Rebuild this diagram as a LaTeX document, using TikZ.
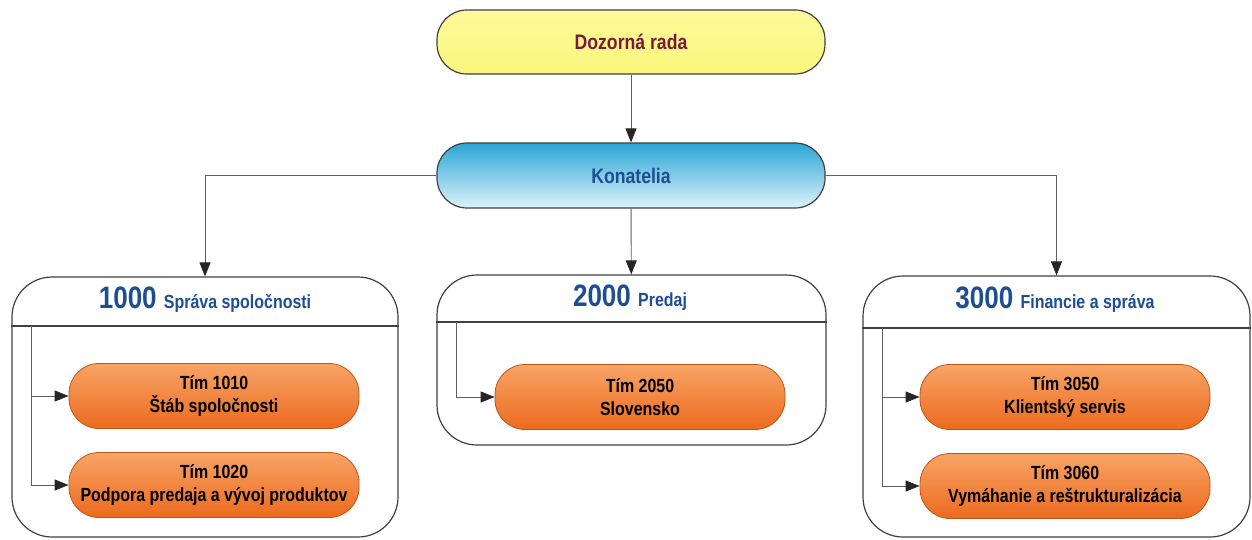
\documentclass[tikz,border=0pt]{standalone}
\usepackage{fontspec}
\setmainfont{Liberation Sans}
\newfontfamily\nb[FakeStretch=0.84]{Liberation Sans}
\usetikzlibrary{arrows.meta}
\definecolor{maroon}{HTML}{7A1B3C}
\definecolor{navy}{HTML}{1D4E93}
\definecolor{yel}{HTML}{FAF67C}
\definecolor{yeltop}{HTML}{FCFA9A}
\definecolor{bluetop}{HTML}{2AA6D6}
\definecolor{bluebot}{HTML}{DDF2FA}
\definecolor{orgtop}{HTML}{F8A466}
\definecolor{orgbot}{HTML}{EC6A1E}
\definecolor{linec}{HTML}{606060}
\definecolor{edge}{HTML}{404040}
\tikzset{
  topbox/.style={draw=edge, line width=1.2pt, rounded corners=30pt, minimum width=388pt, minimum height=64pt, inner sep=0pt, font=\nb\bfseries\fontsize{21}{24}\selectfont},
  unitbox/.style={draw=edge, line width=1.2pt, rounded corners=40pt, fill=white, inner sep=0pt},
  teambox/.style={draw=orgbot!80!black, line width=0.8pt, rounded corners=30pt, top color=orgtop, bottom color=orgbot, minimum width=290pt, minimum height=65pt, inner sep=0pt, align=center, font=\nb\bfseries\fontsize{19}{23}\selectfont},
  hdr/.style={text=navy, inner sep=0pt, font=\nb\bfseries},
  conn/.style={draw=linec, line width=0.9pt, -{Triangle[length=14pt,width=11pt,fill=black!85,color=black!85]}},
  plain/.style={draw=linec, line width=0.9pt}
}
\begin{document}
\begin{tikzpicture}[x=1pt,y=-1pt]
\useasboundingbox (0,0) rectangle (1252,540);
% top nodes
\node[topbox, top color=yeltop, bottom color=yel, text=maroon] (dr) at (631,42) {Dozorná rada};
\node[topbox, top color=bluetop, bottom color=bluebot, text=navy, minimum height=65pt] (kon) at (631,175.5) {Konatelia};
% unit boxes
\node[unitbox, minimum width=386pt, minimum height=260pt] (b1) at (205,407) {};
\node[unitbox, minimum width=389pt, minimum height=170pt] (b2) at (631.5,360) {};
\node[unitbox, minimum width=387pt, minimum height=261pt] (b3) at (1056.5,406.5) {};
% header lines
\draw[edge, line width=1.2pt] (b1.west |- 0,326) -- (b1.east |- 0,326);
\draw[edge, line width=1.2pt] (b2.west |- 0,322) -- (b2.east |- 0,322);
\draw[edge, line width=1.2pt] (b3.west |- 0,328) -- (b3.east |- 0,328);
% headers
\node[hdr] (h1) at (205,300) {{\fontsize{31}{31}\selectfont 1000 }{\fontsize{19}{19}\selectfont Správa spoločnosti}};
\node[hdr] (h2) at (630,298) {{\fontsize{31}{31}\selectfont 2000 }{\fontsize{19}{19}\selectfont Predaj}};
\node[hdr] (h3) at (1055,300) {{\fontsize{31}{31}\selectfont 3000 }{\fontsize{19}{19}\selectfont Financie a správa}};
% team boxes
\node[teambox] (t11) at (214,396) {Tím 1010\\Štáb spoločnosti};
\node[teambox] (t12) at (214,485) {Tím 1020\\Podpora predaja a vývoj produktov};
\node[teambox] (t2) at (640,397) {Tím 2050\\Slovensko};
\node[teambox] (t31) at (1065,397) {Tím 3050\\Klientský servis};
\node[teambox] (t32) at (1065,486) {Tím 3060\\Vymáhanie a reštrukturalizácia};
% branch start points on header lines
\coordinate (s1) at (31,326);
\coordinate (s2) at (456,322);
\coordinate (s3) at (882,328);
% connectors
\draw[conn] (dr) -- (kon);
\draw[conn] (kon.west) -| (b1.north);
\draw[conn] (kon) -- (b2);
\draw[conn] (kon.east) -| (b3.north);
\draw[conn] (s1) |- (t11.west);
\draw[conn] (s1) |- (t12.west);
\draw[conn] (s2) |- (t2.west);
\draw[conn] (s3) |- (t31.west);
\draw[conn] (s3) |- (t32.west);
\end{tikzpicture}
\end{document}
